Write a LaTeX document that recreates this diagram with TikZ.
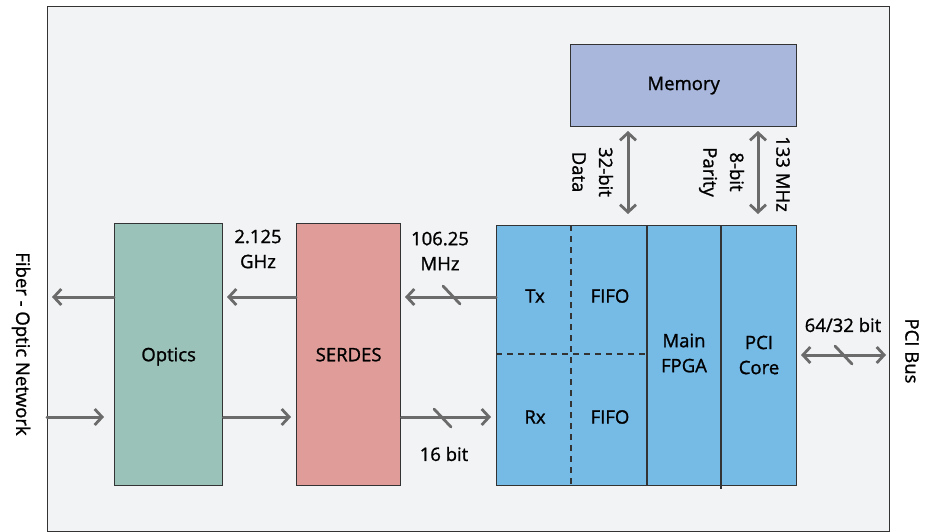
\documentclass[tikz,border=0pt]{standalone}
\usepackage{fontspec}
\setmainfont{Open Sans}[BoldFont=Open Sans, BoldFeatures={FakeBold=1.2}]
\usetikzlibrary{arrows.meta}
\definecolor{bgc}{HTML}{F2F3F5}
\definecolor{optc}{HTML}{9BC2B8}
\definecolor{serc}{HTML}{E09C99}
\definecolor{fpgac}{HTML}{76BAE6}
\definecolor{memc}{HTML}{A9B7DC}
\definecolor{arrc}{HTML}{6B6B6B}
\definecolor{edgec}{HTML}{333333}
\tikzset{
  block/.style={draw=edgec, line width=1.3pt, inner sep=0pt},
  lbl/.style={font=\fontsize{18.5}{25}\selectfont\bfseries, text=black, align=center},
  conn/.style={draw=arrc, line width=3pt, line cap=round, -{Straight Barb[length=2.6mm,width=5.6mm,line width=2.8pt]}},
  dconn/.style={draw=arrc, line width=3pt, line cap=round, {Straight Barb[length=2.6mm,width=5.6mm,line width=2.8pt]}-{Straight Barb[length=2.6mm,width=5.6mm,line width=2.8pt]}},
  slashmark/.style={draw=arrc, line width=2.8pt, line cap=round},
  divider/.style={draw=edgec, line width=1.3pt},
  dashdiv/.style={draw=edgec, line width=1.1pt, dash pattern=on 6pt off 5pt},
}
\begin{document}
\begin{tikzpicture}[x=1pt,y=-1pt]
\useasboundingbox (0,0) rectangle (934,531);
% outer board
\node[block, fill=bgc, minimum width=842pt, minimum height=525pt, anchor=north west] (board) at (47,6) {};
% blocks
\node[block, fill=optc, minimum width=108pt, minimum height=262pt, anchor=north west] (optics) at (114,223) {};
\node[lbl] at ([yshift=-2pt]optics.center) {Optics};
\node[block, fill=serc, minimum width=104pt, minimum height=262pt, anchor=north west] (serdes) at (296,223) {};
\node[lbl] at (serdes.center) {SERDES};
\node[block, fill=fpgac, minimum width=300pt, minimum height=260pt, anchor=north west] (fpga) at (496,225) {};
\node[block, fill=memc, minimum width=226pt, minimum height=82pt, anchor=north west] (mem) at (570,44) {};
\node[lbl] at (mem.center) {Memory};
% dividers in FPGA block
\coordinate (d1t) at (647,225); \coordinate (d1b) at (647,485);
\coordinate (d2t) at (721,225); \coordinate (d2b) at (721,489);
\coordinate (d3t) at (571,225); \coordinate (d3b) at (571,485);
\coordinate (hl) at (496,354); \coordinate (hr) at (647,354);
\draw[divider] (d1t) -- (d1b);
\draw[divider] (d2t) -- (d2b);
\draw[dashdiv] (d3t) -- (d3b);
\draw[dashdiv] (hl) -- (hr);
\node[lbl] (tx) at (535,296) {Tx};
\node[lbl] (ftx) at (610,296) {FIFO};
\node[lbl] (rx) at (535,417) {Rx};
\node[lbl] (frx) at (610,417) {FIFO};
\node[lbl] (mainf) at (684,353) {Main\\FPGA};
\node[lbl] (pcic) at (759,355) {PCI\\Core};
% free ends
\coordinate (fibout) at (52,297);
\coordinate (fibin) at (47,417);
\coordinate (m1t) at (628,131); \coordinate (m1b) at (628,214);
\coordinate (m2t) at (758,131); \coordinate (m2b) at (758,214);
\coordinate (pcil) at (801,355); \coordinate (pcir) at (886,355);
% connectors
\draw[conn] (optics.west |- fibout) -- (fibout);
\draw[conn] (fibin) -- (104,417);
\draw[conn] (serdes.west |- fibout) -- (227,297);
\draw[conn] (optics.east |- fibin) -- (291,417);
\draw[conn] (fpga.west |- fibout) -- (405,297);
\draw[conn] (serdes.east |- fibin) -- (491,417);
\draw[dconn] (m1t) -- (m1b);
\draw[dconn] (m2t) -- (m2b);
\draw[dconn] (pcil) -- (pcir);
% bus slashes
\draw[slashmark] (443,286) -- (460,304);
\draw[slashmark] (434,409) -- (451,427);
\draw[slashmark] (835,346) -- (852,364);
% labels
\node[lbl] at (258,249) {2.125\\GHz};
\node[lbl] at (440,251) {106.25\\MHz};
\node[lbl] at (444,454) {16 bit};
\node[lbl] at (843,325) {64/32 bit};
\node[lbl, rotate=-90] at (606,172) {32-bit};
\node[lbl, rotate=-90] at (579,172) {Data};
\node[lbl, rotate=-90] at (737,172) {8-bit};
\node[lbl, rotate=-90] at (708,172) {Parity};
\node[lbl, rotate=-90] at (783,174) {133 MHz};
\node[lbl, rotate=-90] at (912,351) {PCI Bus};
\node[lbl, rotate=-90] at (21,344) {Fiber - Optic Network};
\end{tikzpicture}
\end{document}
